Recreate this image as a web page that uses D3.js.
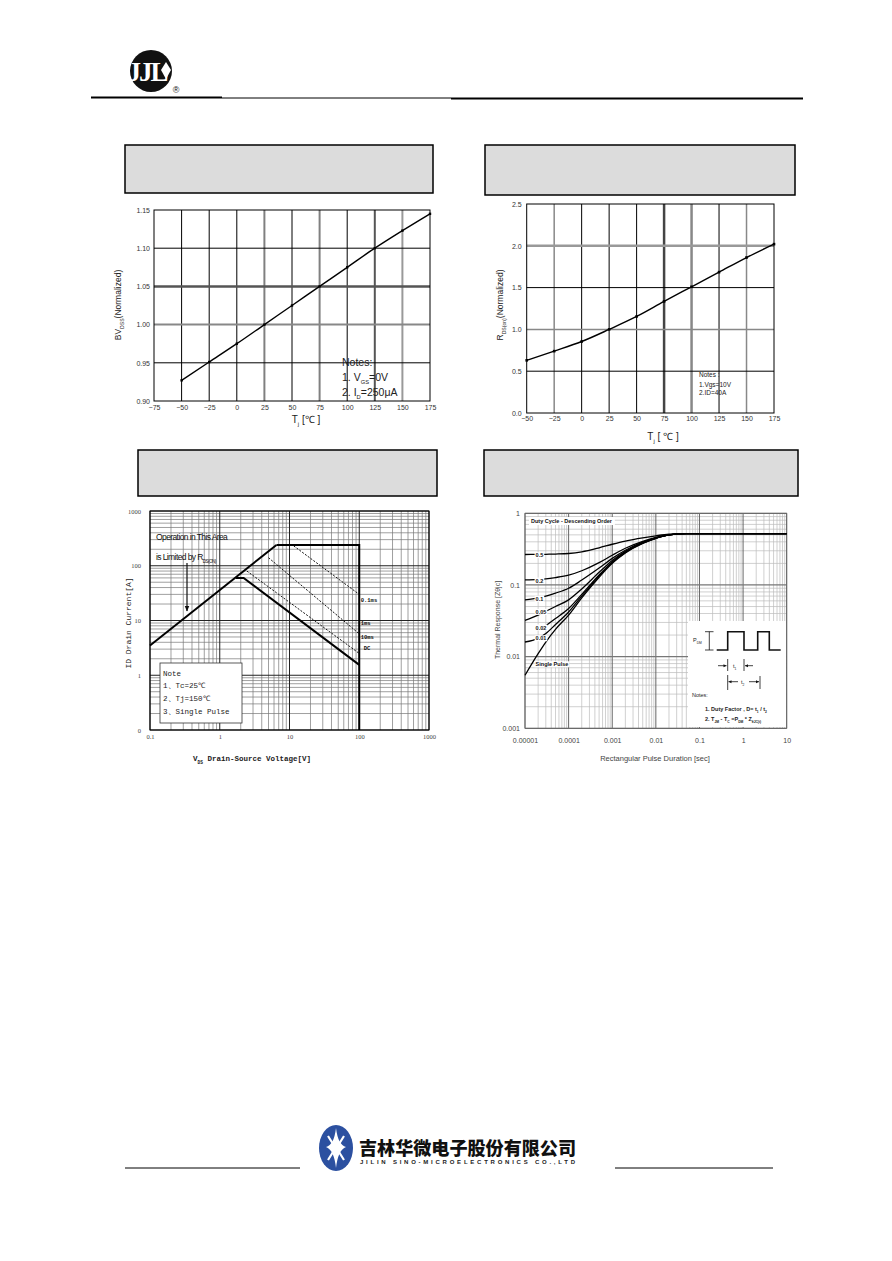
<!DOCTYPE html>
<html><head><meta charset="utf-8">
<script src="https://cdn.jsdelivr.net/npm/d3@7"></script>
<style>body{margin:0;background:#fff}svg{display:block}</style>
</head><body>
<svg id="page" width="892" height="1261"></svg>
<script>
// ---------------- DATA ----------------
const bvTemps = [-50,-25,0,25,50,75,100,125,150,175];
const bvNorm = [0.927,0.951,0.975,1.000,1.025,1.050,1.075,1.100,1.123,1.145];
const bvXTicks = [-75,-50,-25,0,25,50,75,100,125,150,175];
const bvYTicks = [0.90,0.95,1.00,1.05,1.10,1.15];

const rdsTemps = [-50,-25,0,25,50,75,100,125,150,175];
const rdsNorm = [0.63,0.74,0.855,1.0,1.155,1.335,1.51,1.685,1.86,2.02];
const rdsXTicks = [-50,-25,0,25,50,75,100,125,150,175];
const rdsYTicks = [0,0.5,1.0,1.5,2.0,2.5];

const soaXTicks = [0.1,1,10,100,1000];
const soaXLabels = ["0.1","1","10","100","1000"];
const soaYTicks = [0.1,1,10,100,1000];
const soaYLabels = ["0","1","10","100","1000"];
const limitV = [0.1, 6.5],  limitI = [3.5, 240];
const boundV = [6.5, 100, 100], boundI = [240, 240, 0.1];
const dcV = [1.7, 2.2, 100],   dcI = [60, 60, 1.55];
const ms10V = [2.45, 100],     ms10I = [80, 2.5];
const ms1V = [5, 100],         ms1I = [140, 5.7];
const us100V = [11.5, 100],    us100I = [230, 30];
const soaCurveLabels = ["0.1ms","1ms","10ms","DC"];
const soaCurveLabelI = [22, 8.2, 4.6, 2.9];

const pulseTime = [1e-5,2e-5,3e-5,5e-5,1e-4,2e-4,5e-4,1e-3,2e-3,5e-3,1e-2,2e-2,5e-2,1e-1,1,10];
const zD50 = [0.266,0.267,0.268,0.27,0.275,0.29,0.33,0.37,0.41,0.455,0.485,0.51,0.52,0.52,0.52,0.52];
const zD20 = [0.118,0.12,0.122,0.127,0.137,0.158,0.205,0.26,0.325,0.405,0.46,0.50,0.52,0.52,0.52,0.52];
const zD10 = [0.062,0.066,0.07,0.077,0.09,0.117,0.172,0.235,0.305,0.395,0.455,0.50,0.52,0.52,0.52,0.52];
const zD05 = [0.032,0.038,0.043,0.05,0.062,0.088,0.15,0.22,0.295,0.39,0.452,0.50,0.52,0.52,0.52,0.52];
const zD02 = [null,null,0.027,0.034,0.047,0.074,0.138,0.21,0.29,0.385,0.45,0.50,0.52,0.52,0.52,0.52];
const zD01 = [0.016,0.018,0.021,0.028,0.042,0.07,0.133,0.205,0.285,0.382,0.448,0.50,0.52,0.52,0.52,0.52];
const zSingle = [0.0055,0.011,0.016,0.024,0.038,0.066,0.128,0.2,0.28,0.38,0.447,0.50,0.52,0.52,0.52,0.52];
const dutyLabels = ["0.5","0.2","0.1","0.05","0.02","0.01","Single Pulse"];
const dutyLabelZ = [0.26,0.115,0.064,0.042,0.0254,0.018,0.0078];
const thermXTicks = [1e-5,1e-4,1e-3,1e-2,1e-1,1,10];
const thermXLabels = ["0.00001","0.0001","0.001","0.01","0.1","1","10"];
const thermYTicks = [0.001,0.01,0.1,1];
const thermYLabels = ["0.001","0.01","0.1","1"];

// ---------------- PAGE ----------------
const svg = d3.select('#page');
const SANS = "Liberation Sans, Arial, sans-serif";
const MONO = "Liberation Mono, DejaVu Sans Mono, monospace";

// Header logo
const logo = svg.append('g');
logo.append('circle').attr('cx',151).attr('cy',71).attr('r',21).attr('fill','#111');
logo.append('text').attr('x',147).attr('y',81).attr('text-anchor','middle')
  .attr('font-family','Liberation Serif, serif').attr('font-weight','bold').attr('font-size',27)
  .attr('fill','#fff').attr('letter-spacing',-2).text('JJL');
logo.append('path').attr('d','M166,62 L171,70 L166,79 L161,70 Z').attr('fill','#fff');
logo.append('text').attr('x',176).attr('y',93).attr('text-anchor','middle')
  .attr('font-family',SANS).attr('font-size',9).attr('fill','#111').text('®');
svg.append('line').attr('x1',91).attr('x2',222).attr('y1',97.5).attr('y2',97.5).attr('stroke','#000').attr('stroke-width',2);
svg.append('line').attr('x1',222).attr('x2',451).attr('y1',98).attr('y2',98).attr('stroke','#000').attr('stroke-width',1);
svg.append('line').attr('x1',451).attr('x2',803).attr('y1',98.5).attr('y2',98.5).attr('stroke','#000').attr('stroke-width',2);

// Header boxes
[[125,145,308,48],[485,145,310,50],[138,450,299,46],[484,450,314,46]].forEach(b=>{
  svg.append('rect').attr('x',b[0]).attr('y',b[1]).attr('width',b[2]).attr('height',b[3])
    .attr('fill','#dcdcdc').attr('stroke','#000').attr('stroke-width',1.5);
});

function styleAxis(g, font, size, fill){
  g.select('.domain').remove();
  g.attr('font-family',font).attr('font-size',size);
  g.selectAll('text').attr('fill',fill);
  g.selectAll('line').remove();
}
function subText(t, parts){
  parts.forEach(p=>{
    const ts = t.append('tspan').text(p[0]);
    if(p[1]==='sub') ts.attr('font-size',p[2]||'70%').attr('baseline-shift','sub');
  });
}

// ---------------- CHART 1 : BVDSS ----------------
(function(){
  const x = d3.scaleLinear([-75,175],[154,430]);
  const y = d3.scaleLinear([0.90,1.15],[401,210]);
  const g = svg.append('g');
  const vStyle = {25:['#808080',2],75:['#808080',2],125:['#555',2],150:['#999',2]};
  bvXTicks.slice(1,-1).forEach(t=>{
    const s = vStyle[t]||['#000',1];
    g.append('line').attr('x1',x(t)).attr('x2',x(t)).attr('y1',y(0.9)).attr('y2',y(1.15)).attr('stroke',s[0]).attr('stroke-width',s[1]);
  });
  const hStyle = {'1':['#888',2],'1.05':['#555',2.5]};
  bvYTicks.slice(1,-1).forEach(t=>{
    const s = hStyle[String(+t.toFixed(2))]||['#000',1];
    g.append('line').attr('x1',x(-75)).attr('x2',x(175)).attr('y1',y(t)).attr('y2',y(t)).attr('stroke',s[0]).attr('stroke-width',s[1]);
  });
  g.append('rect').attr('x',x(-75)).attr('y',y(1.15)).attr('width',x(175)-x(-75)).attr('height',y(0.9)-y(1.15)).attr('fill','none').attr('stroke','#000');
  const pts = bvTemps.map((t,i)=>[t,bvNorm[i]]);
  g.append('path').datum(pts).attr('fill','none').attr('stroke','#000').attr('stroke-width',1.4)
    .attr('d',d3.line().x(d=>x(d[0])).y(d=>y(d[1])).curve(d3.curveMonotoneX));
  g.selectAll('.m1').data(pts).enter().append('rect').attr('x',d=>x(d[0])-1.2).attr('y',d=>y(d[1])-1.2).attr('width',2.4).attr('height',2.4).attr('fill','#000');
  const ax = g.append('g').attr('transform','translate(0,401)').call(d3.axisBottom(x).tickValues(bvXTicks).tickSize(0).tickPadding(4).tickFormat(d3.format('d')));
  styleAxis(ax,SANS,7,'#333');
  const ay = g.append('g').attr('transform','translate(154,0)').call(d3.axisLeft(y).tickValues(bvYTicks).tickSize(0).tickPadding(4).tickFormat(d3.format('.2f')));
  styleAxis(ay,SANS,7,'#333');
  const yt = g.append('text').attr('transform','translate(121,305) rotate(-90)').attr('text-anchor','middle').attr('font-family',SANS).attr('font-size',8.5).attr('fill','#222');
  subText(yt,[['BV'],['DSS','sub','60%'],['(Normalized)']]);
  const xt = g.append('text').attr('x',306).attr('y',423).attr('text-anchor','middle').attr('font-family',SANS).attr('font-size',10).attr('fill','#222');
  subText(xt,[['T'],['j','sub','60%'],[' [℃ ]']]);
  const nf = 10.5;
  g.append('text').attr('x',342).attr('y',366).attr('font-family',SANS).attr('font-size',nf).attr('fill','#222').text('Notes:');
  subText(g.append('text').attr('x',342).attr('y',381).attr('font-family',SANS).attr('font-size',nf).attr('fill','#222'),[['1. V'],['GS','sub','55%'],['=0V']]);
  subText(g.append('text').attr('x',342).attr('y',396).attr('font-family',SANS).attr('font-size',nf).attr('fill','#222'),[['2. I'],['D','sub','55%'],['=250μA']]);
})();

// ---------------- CHART 2 : RDS(on) ----------------
(function(){
  const x = d3.scaleLinear([-50,175],[526.7,774]);
  const y = d3.scaleLinear([0,2.5],[413,204]);
  const g = svg.append('g');
  const vStyle = {'-25':['#888',1.5],75:['#444',2.5],100:['#888',2.5],150:['#888',1.5]};
  rdsXTicks.slice(1,-1).forEach(t=>{
    const s = vStyle[t]||['#000',1];
    g.append('line').attr('x1',x(t)).attr('x2',x(t)).attr('y1',y(0)).attr('y2',y(2.5)).attr('stroke',s[0]).attr('stroke-width',s[1]);
  });
  const hStyle = {'1':['#888',1.5],'2':['#999',2.5]};
  rdsYTicks.slice(1,-1).forEach(t=>{
    const s = hStyle[String(t)]||['#000',1];
    g.append('line').attr('x1',x(-50)).attr('x2',x(175)).attr('y1',y(t)).attr('y2',y(t)).attr('stroke',s[0]).attr('stroke-width',s[1]);
  });
  g.append('rect').attr('x',x(-50)).attr('y',y(2.5)).attr('width',x(175)-x(-50)).attr('height',y(0)-y(2.5)).attr('fill','none').attr('stroke','#000');
  const pts = rdsTemps.map((t,i)=>[t,rdsNorm[i]]);
  g.append('path').datum(pts).attr('fill','none').attr('stroke','#000').attr('stroke-width',1.4)
    .attr('d',d3.line().x(d=>x(d[0])).y(d=>y(d[1])).curve(d3.curveMonotoneX));
  g.selectAll('.m2').data(pts).enter().append('rect').attr('x',d=>x(d[0])-1.3).attr('y',d=>y(d[1])-1.3).attr('width',2.6).attr('height',2.6).attr('fill','#000');
  const ax = g.append('g').attr('transform','translate(0,413)').call(d3.axisBottom(x).tickValues(rdsXTicks).tickSize(0).tickPadding(3).tickFormat(d3.format('d')));
  styleAxis(ax,SANS,7,'#333');
  const ay = g.append('g').attr('transform','translate(526.7,0)').call(d3.axisLeft(y).tickValues(rdsYTicks).tickSize(0).tickPadding(5).tickFormat(d3.format('.1f')));
  styleAxis(ay,SANS,7,'#333');
  const yt = g.append('text').attr('transform','translate(503,305) rotate(-90)').attr('text-anchor','middle').attr('font-family',SANS).attr('font-size',8.5).attr('fill','#222');
  subText(yt,[['R'],['DS(on)','sub','60%'],['(Normalized)']]);
  const xt = g.append('text').attr('x',663).attr('y',440).attr('text-anchor','middle').attr('font-family',SANS).attr('font-size',10).attr('fill','#222');
  subText(xt,[['T'],['j','sub','60%'],[' [ ℃ ]']]);
  [['Notes :',377],['1.Vgs=10V',386.5],['2.ID=40A',394.5]].forEach(n=>{
    g.append('text').attr('x',699).attr('y',n[1]).attr('font-family',SANS).attr('font-size',6.5).attr('fill','#222').text(n[0]);
  });
})();

// ---------------- CHART 3 : SOA ----------------
(function(){
  const x = d3.scaleLog([0.1,1000],[150,429]);
  const y = d3.scaleLog([0.1,1000],[730,511]);
  const g = svg.append('g');
  // minor grid
  const minors = [];
  for(let e=-1;e<3;e++) for(let k=2;k<10;k++) minors.push(k*Math.pow(10,e));
  minors.forEach(v=>{
    g.append('line').attr('x1',x(v)).attr('x2',x(v)).attr('y1',y(0.1)).attr('y2',y(1000)).attr('stroke','#777').attr('stroke-width',0.7);
    g.append('line').attr('x1',x(0.1)).attr('x2',x(1000)).attr('y1',y(v)).attr('y2',y(v)).attr('stroke','#777').attr('stroke-width',0.7);
  });
  soaXTicks.forEach(v=>{
    g.append('line').attr('x1',x(v)).attr('x2',x(v)).attr('y1',y(0.1)).attr('y2',y(1000)).attr('stroke','#222').attr('stroke-width',1);
    g.append('line').attr('x1',x(0.1)).attr('x2',x(1000)).attr('y1',y(v)).attr('y2',y(v)).attr('stroke','#222').attr('stroke-width',1.2);
  });
  g.append('rect').attr('x',x(0.1)).attr('y',y(1000)).attr('width',x(1000)-x(0.1)).attr('height',y(0.1)-y(1000)).attr('fill','none').attr('stroke','#000');
  const line = d3.line().x(d=>x(d[0])).y(d=>y(d[1]));
  const mk = (V,I)=>V.map((v,i)=>[v,I[i]]);
  g.append('path').datum(mk(limitV,limitI)).attr('d',line).attr('fill','none').attr('stroke','#000').attr('stroke-width',2);
  g.append('path').datum(mk(boundV,boundI)).attr('d',line).attr('fill','none').attr('stroke','#000').attr('stroke-width',2);
  g.append('path').datum(mk(dcV,dcI)).attr('d',line).attr('fill','none').attr('stroke','#000').attr('stroke-width',2);
  [[ms10V,ms10I],[ms1V,ms1I],[us100V,us100I]].forEach(s=>{
    g.append('path').datum(mk(s[0],s[1])).attr('d',line).attr('fill','none').attr('stroke','#111').attr('stroke-width',1).attr('stroke-dasharray','2,1.5');
  });
  soaCurveLabels.forEach((t,i)=>{
    const tx = g.append('text').attr('x',x(105)+(t==='DC'?3:0)).attr('y',y(soaCurveLabelI[i])).attr('font-family',MONO).attr('font-weight','bold')
      .attr('font-size',5.5).attr('fill','#111').text(t);
  });
  const ax = g.append('g').attr('transform','translate(0,730)').call(d3.axisBottom(x).tickValues(soaXTicks).tickSize(0).tickPadding(4).tickFormat((d,i)=>soaXLabels[i]));
  styleAxis(ax,'Liberation Serif, serif',6.5,'#444');
  const ay = g.append('g').attr('transform','translate(150,0)').call(d3.axisLeft(y).tickValues(soaYTicks).tickSize(0).tickPadding(9).tickFormat((d,i)=>soaYLabels[i]));
  styleAxis(ay,'Liberation Serif, serif',6.5,'#444');
  g.append('text').attr('transform','translate(131,623) rotate(-90)').attr('text-anchor','middle').attr('font-family',MONO).attr('font-size',8).attr('fill','#222').text('ID Drain Current[A]');
  const xt = g.append('text').attr('x',252).attr('y',761).attr('text-anchor','middle').attr('font-family',MONO).attr('font-size',7.5).attr('fill','#222').attr('font-weight','bold');
  subText(xt,[['V'],['DS','sub','60%'],[' Drain-Source Voltage[V]']]);
  // annotation
  g.append('text').attr('x',156).attr('y',540).attr('font-family',SANS).attr('font-size',8.5).attr('letter-spacing',-0.6).attr('fill','#111').text('Operation in This Area');
  subText(g.append('text').attr('x',156).attr('y',560).attr('font-family',SANS).attr('font-size',8.5).attr('letter-spacing',-0.6).attr('fill','#111'),[['is Limited by R'],['DS(ON)','sub','55%']]);
  svg.append('defs').html('<marker id="ah" viewBox="0 0 10 10" refX="9" refY="5" markerWidth="5" markerHeight="6" orient="auto"><path d="M0,1 L10,5 L0,9 Z" fill="#111"/></marker>');
  g.append('line').attr('x1',187).attr('x2',187).attr('y1',563).attr('y2',611).attr('stroke','#111').attr('stroke-width',1.2).attr('marker-end','url(#ah)');
  // note box
  g.append('rect').attr('x',160).attr('y',663).attr('width',82).attr('height',60).attr('fill','#fff').attr('stroke','#333').attr('stroke-width',0.8);
  [['Note',676],['1、Tc=25℃',688],['2、Tj=150℃',701],['3、Single Pulse',714]].forEach(n=>{
    g.append('text').attr('x',163).attr('y',n[1]).attr('font-family',MONO).attr('font-size',7.5).attr('fill','#222').text(n[0]);
  });
})();

// ---------------- CHART 4 : Transient thermal ----------------
(function(){
  const x = d3.scaleLog([1e-5,10],[525,786.7]);
  const y = d3.scaleLog([0.001,1],[728.3,513.3]);
  const g = svg.append('g');
  const minors = [];
  for(let e=-5;e<1;e++) for(let k=2;k<10;k++) minors.push(k*Math.pow(10,e));
  minors.forEach(v=>g.append('line').attr('x1',x(v)).attr('x2',x(v)).attr('y1',y(0.001)).attr('y2',y(1)).attr('stroke','#bbb').attr('stroke-width',0.7));
  const yminors = [];
  for(let e=-3;e<0;e++) for(let k=2;k<10;k++) yminors.push(k*Math.pow(10,e));
  yminors.forEach(v=>g.append('line').attr('x1',x(1e-5)).attr('x2',x(10)).attr('y1',y(v)).attr('y2',y(v)).attr('stroke','#bbb').attr('stroke-width',0.7));
  thermXTicks.forEach(v=>g.append('line').attr('x1',x(v)).attr('x2',x(v)).attr('y1',y(0.001)).attr('y2',y(1)).attr('stroke','#666').attr('stroke-width',1));
  thermYTicks.forEach(v=>g.append('line').attr('x1',x(1e-5)).attr('x2',x(10)).attr('y1',y(v)).attr('y2',y(v)).attr('stroke','#777').attr('stroke-width',1.3));
  g.append('rect').attr('x',x(1e-5)).attr('y',y(1)).attr('width',x(10)-x(1e-5)).attr('height',y(0.001)-y(1)).attr('fill','none').attr('stroke','#666').attr('stroke-width',0.8);
  // inset white area
  g.append('rect').attr('x',688).attr('y',621).attr('width',98).attr('height',106).attr('fill','#fff');
  // curves
  const series = [zD50,zD20,zD10,zD05,zD02,zD01,zSingle];
  const line = d3.line().defined(d=>d[1]!=null).x(d=>x(d[0])).y(d=>y(d[1])).curve(d3.curveMonotoneX);
  series.forEach(s=>{
    g.append('path').datum(pulseTime.map((t,i)=>[t,s[i]])).attr('d',line).attr('fill','none').attr('stroke','#000').attr('stroke-width',1.3);
  });
  // labels with white background
  const lg = g.append('g').attr('font-family',SANS).attr('font-weight','bold').attr('font-size',5.5).attr('fill','#111');
  dutyLabels.forEach((t,i)=>{
    const tx = lg.append('text').attr('x',x(1.75e-5)).attr('y',y(dutyLabelZ[i])).attr('dy','0.35em').text(t);
    const bb = tx.node().getBBox();
    lg.insert('rect','text').attr('x',bb.x-1).attr('y',bb.y).attr('width',bb.width+2).attr('height',bb.height).attr('fill','#fff');
  });
  const dt = lg.append('text').attr('x',531).attr('y',523).text('Duty Cycle - Descending Order');
  const db = dt.node().getBBox();
  lg.insert('rect','text').attr('x',db.x-2).attr('y',db.y-1).attr('width',db.width+4).attr('height',db.height+2).attr('fill','#fff');
  // axes
  const ax = g.append('g').attr('transform','translate(0,728.3)').call(d3.axisBottom(x).tickValues(thermXTicks).tickSize(0).tickPadding(10).tickFormat((d,i)=>thermXLabels[i]));
  styleAxis(ax,SANS,7,'#444');
  const ay = g.append('g').attr('transform','translate(525,0)').call(d3.axisLeft(y).tickValues(thermYTicks).tickSize(0).tickPadding(5).tickFormat((d,i)=>thermYLabels[i]));
  styleAxis(ay,SANS,7,'#444');
  g.append('text').attr('transform','translate(500,620) rotate(-90)').attr('text-anchor','middle').attr('font-family',SANS).attr('font-size',7).attr('fill','#444').text('Thermal Response  [Zθjc]');
  g.append('text').attr('x',655).attr('y',761).attr('text-anchor','middle').attr('font-family',SANS).attr('font-size',7.5).attr('fill','#444').text('Rectangular Pulse Duration [sec]');
  // pulse diagram
  const w = g.append('g').attr('stroke','#111').attr('fill','none');
  w.append('path').attr('d','M716.7,650 H727.7 V631.7 H744 V650 H757.7 V631.7 H769.3 V650 H780.7').attr('stroke-width',1.6);
  w.append('path').attr('d','M709.3,631.7 V650 M705,631.7 H713.5 M705,650 H713.5').attr('stroke-width',0.8);
  w.append('path').attr('d','M727.7,659 V671 M744,659 V671 M718,665.7 H726.5 M753,665.7 H745 M727.7,675 V690 M760,676 V689 M728.5,681.7 H738 M749,681.7 H759').attr('stroke-width',0.8);
  const arr = 'M0,0 L-3,-1.5 L-3,1.5 Z';
  [[726.5,665.7,0],[745,665.7,180],[728.5,681.7,180],[759,681.7,0]].forEach(a=>{
    g.append('path').attr('d',arr).attr('fill','#111').attr('transform',`translate(${a[0]},${a[1]}) rotate(${a[2]})`);
  });
  const tf = g.append('g').attr('font-family',SANS).attr('font-size',5.5).attr('fill','#222');
  subText(tf.append('text').attr('x',693).attr('y',642),[['P'],['DM','sub','60%']]);
  subText(tf.append('text').attr('x',733).attr('y',667.5),[['t'],['1','sub','60%']]);
  subText(tf.append('text').attr('x',741).attr('y',683.5),[['t'],['2','sub','60%']]);
  tf.append('text').attr('x',692).attr('y',697).text('Notes:');
  subText(tf.append('text').attr('x',705).attr('y',711).attr('font-weight','bold'),[['1. Duty Factor ,  D= t'],['1','sub','60%'],[' / t'],['2','sub','60%']]);
  subText(tf.append('text').attr('x',705).attr('y',721).attr('font-weight','bold'),[['2. T'],['JM','sub','60%'],[' - T'],['C','sub','60%'],['  =P'],['DM','sub','60%'],[' * Z'],['θJC(t)','sub','60%']]);
})();

// ---------------- FOOTER ----------------
const f = svg.append('g');
f.append('ellipse').attr('cx',336).attr('cy',1148).attr('rx',17).attr('ry',23).attr('fill','#2c50a0');
f.append('path').attr('d','M336,1128 Q338,1145 346,1147 Q338,1150 336,1168 Q334,1150 326,1147 Q334,1145 336,1128 Z').attr('fill','#fff');
f.append('path').attr('d','M328,1136 L333,1144 M344,1136 L339,1144 M328,1160 L333,1152 M344,1160 L339,1152').attr('stroke','#fff').attr('stroke-width',2.2);
f.append('text').attr('x',359).attr('y',1155).attr('font-family','Noto Sans CJK SC').attr('font-weight',900).attr('font-size',18)
  .attr('textLength',217).attr('lengthAdjust','spacingAndGlyphs').attr('fill','#111').text('吉林华微电子股份有限公司');
f.append('text').attr('x',360).attr('y',1164).attr('font-family',SANS).attr('font-weight','bold').attr('font-size',6)
  .attr('textLength',215).attr('lengthAdjust','spacing').attr('fill','#222').text('JILIN SINO-MICROELECTRONICS CO.,LTD');
f.append('line').attr('x1',125).attr('x2',300).attr('y1',1168).attr('y2',1168).attr('stroke','#000').attr('stroke-width',1);
f.append('line').attr('x1',615).attr('x2',773).attr('y1',1168).attr('y2',1168).attr('stroke','#000').attr('stroke-width',1);
</script>
</body></html>
